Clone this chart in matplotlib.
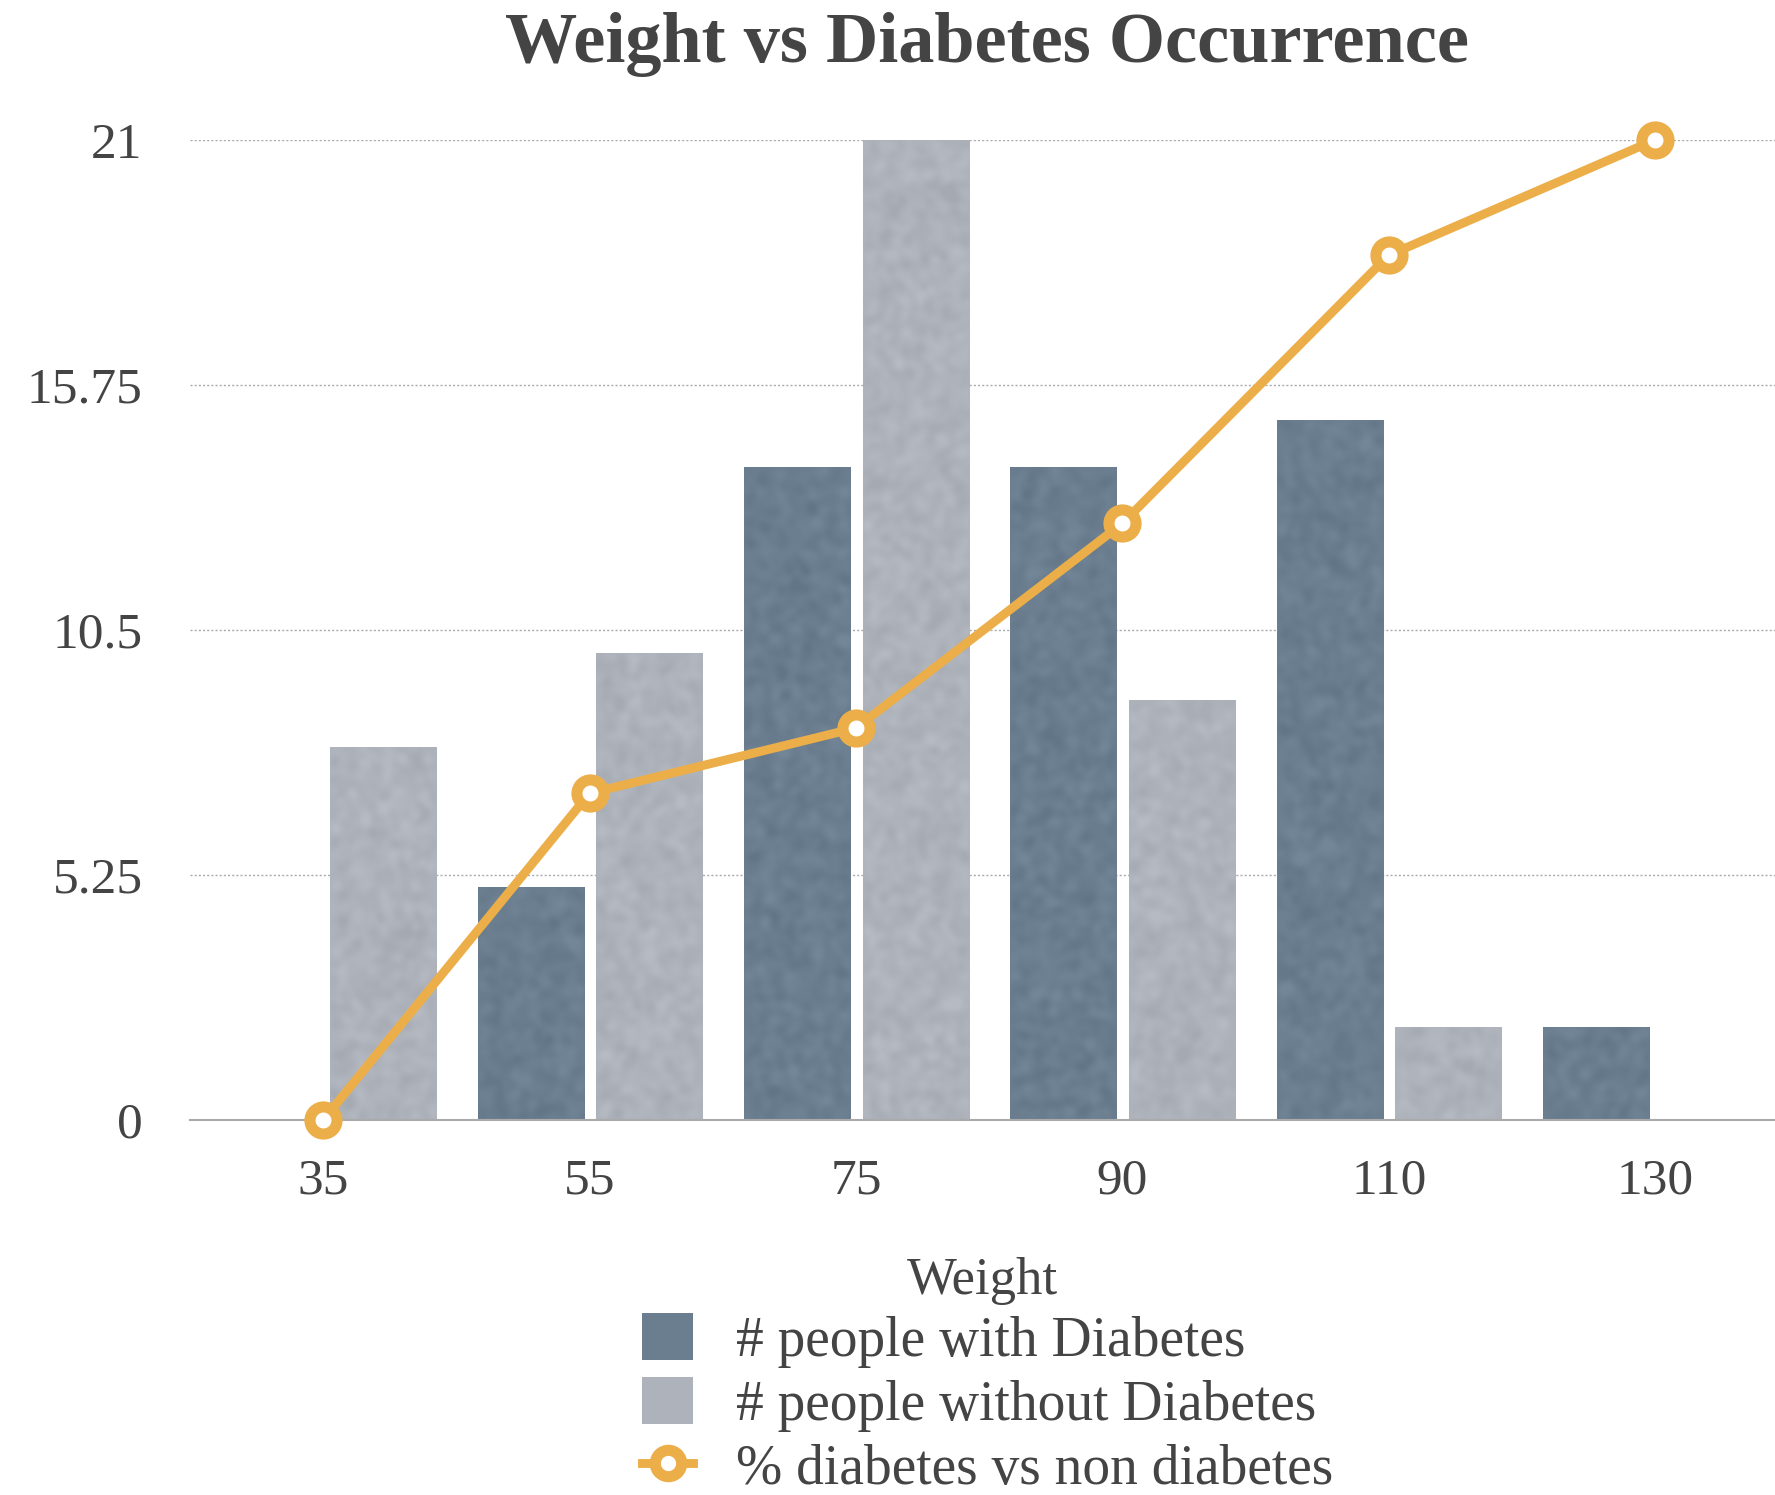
import numpy as np
import matplotlib
matplotlib.use("Agg")
import matplotlib.pyplot as plt
from matplotlib.lines import Line2D
from matplotlib.patches import Patch
from matplotlib.colors import LinearSegmentedColormap, to_rgb

# Data
weights = ["35", "55", "75", "90", "110", "130"]
with_diabetes = [0, 5, 14, 14, 15, 2]
without_diabetes = [8, 10, 21, 9, 2, 0]
pct_diabetes = [100 * d / (d + n) for d, n in zip(with_diabetes, without_diabetes)]
y_ticks = [0, 5.25, 10.5, 15.75, 21]
y_tick_labels = ["0", "5.25", "10.5", "15.75", "21"]

DARK = "#6b7e8f"
LIGHT = "#aeb3bb"
ORANGE = "#ecae48"
TEXT = "#444444"
FONT = ["Liberation Serif", "DejaVu Serif"]

plt.rcParams["font.family"] = FONT

fig = plt.figure(figsize=(17.75, 14.95), dpi=100)
ax = fig.add_axes([0.107, 0.2508, 0.893, 0.6556])

x = np.arange(len(weights))
bw = 0.40
bars_d = ax.bar(x - 0.22, with_diabetes, width=bw, color=DARK, zorder=2,
                edgecolor="none")
bars_n = ax.bar(x + 0.225, without_diabetes, width=bw, color=LIGHT, zorder=2,
                edgecolor="none")


def paper_grain(shape, rng, passes=3, k=5):
    """Soft mottled grain used to give the bars a paper-like finish."""
    g = rng.normal(size=shape)
    kern = np.ones(k) / k
    for _ in range(passes):
        g = np.apply_along_axis(lambda r: np.convolve(r, kern, mode="same"), 0, g)
        g = np.apply_along_axis(lambda r: np.convolve(r, kern, mode="same"), 1, g)
    g = (g - g.mean()) / (g.std() * 6) + 0.5
    return np.clip(g, 0, 1)


def grain_cmap(color, spread=0.035):
    r, g, b = to_rgb(color)
    lo = tuple(max(c - spread, 0) for c in (r, g, b))
    hi = tuple(min(c + spread, 1) for c in (r, g, b))
    return LinearSegmentedColormap.from_list("grain", [lo, (r, g, b), hi])


rng = np.random.default_rng(7)
for bars, color in ((bars_d, DARK), (bars_n, LIGHT)):
    cmap = grain_cmap(color)
    for patch in bars:
        h = patch.get_height()
        if h <= 0:
            continue
        x0 = patch.get_x()
        w = patch.get_width()
        rows = max(int(h * 30), 10)
        grain = paper_grain((rows, 70), rng)
        im = ax.imshow(grain, cmap=cmap, vmin=0, vmax=1, aspect="auto",
                       extent=(x0, x0 + w, 0, h), interpolation="bicubic",
                       zorder=2.2, origin="lower")
        im.set_clip_path(patch)

# percentage line on its own hidden scale
ax2 = ax.twinx()
ax2.plot(x, pct_diabetes, color=ORANGE, lw=6.4, marker="o", ms=19.5,
         mew=8, mfc="white", mec=ORANGE, zorder=5, clip_on=False)
ax2.set_ylim(0, 100)
ax2.axis("off")

ax.set_xlim(-0.5, 5.45)
ax.set_ylim(0, 21)
ax.set_yticks(y_ticks)
ax.set_yticklabels(y_tick_labels)
ax.set_xticks(x)
ax.set_xticklabels(weights)
ax.tick_params(axis="both", length=0, labelsize=37, colors=TEXT)
ax.tick_params(axis="y", pad=34)
ax.tick_params(axis="x", pad=27)
for s in ["top", "right", "left"]:
    ax.spines[s].set_visible(False)
ax.spines["bottom"].set_color("#aaaaaa")
ax.spines["bottom"].set_linewidth(1.5)
ax.spines["bottom"].set_zorder(3)
ax.yaxis.grid(True, linestyle=(0, (1.5, 1.5)), color="#aaaaaa", lw=1.0, zorder=0)
ax.set_axisbelow(True)

ax.set_xlabel("Weight", fontsize=38, color=TEXT, labelpad=38)
fig.text(0.556, 0.970, "Weight vs Diabetes Occurrence", ha="center", va="center",
         fontsize=52, fontweight="bold", color=TEXT)

handles = [
    Patch(facecolor=DARK, edgecolor="none"),
    Patch(facecolor=LIGHT, edgecolor="none"),
    Line2D([], [], color=ORANGE, lw=6.4, marker="o", ms=19, mew=8,
           mfc="white", mec=ORANGE),
]
labels = ["# people with Diabetes", "# people without Diabetes",
          "% diabetes vs non diabetes"]
leg = fig.legend(handles, labels, loc="upper left", bbox_to_anchor=(0.3617, 0.1215),
                 frameon=False, fontsize=40, handlelength=0.92, handleheight=0.92,
                 handletextpad=0.77, labelspacing=0.17, borderpad=0,
                 borderaxespad=0)
for t in leg.get_texts():
    t.set_color(TEXT)

fig.savefig("out.png", dpi=100)
